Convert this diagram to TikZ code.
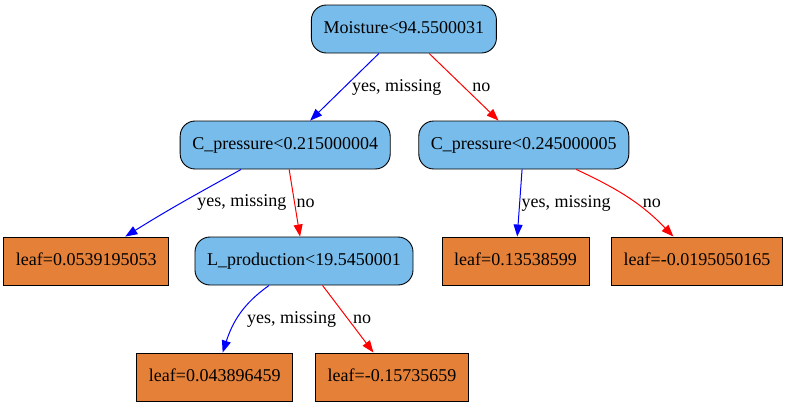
\documentclass[tikz,border=0pt]{standalone}
\usepackage{fontspec}
\setmainfont{Liberation Serif}
\usetikzlibrary{positioning,arrows.meta}
\definecolor{splitblue}{HTML}{78BCEB}
\definecolor{leaforange}{HTML}{E48038}
\begin{document}
\begin{tikzpicture}[node distance=116pt,
    every node/.style={font=\fontsize{18}{22}\selectfont, text height=13pt, text depth=4pt},
    split/.style={draw, line width=0.9pt, fill=splitblue, rounded corners=15pt, minimum height=48pt, inner xsep=12.2pt, inner ysep=0pt},
    leaf/.style={draw, line width=0.9pt, fill=leaforange, minimum height=48pt, inner xsep=12.2pt, inner ysep=0pt},
    yesedge/.style={draw=blue, line width=1pt, -{Triangle[length=12pt,width=9pt]}},
    noedge/.style={draw=red, line width=1pt, -{Triangle[length=12pt,width=9pt]}},
    lbl/.style={anchor=west, inner sep=0pt}]
                \useasboundingbox (0,0) rectangle (787pt,-407pt);
                \node[split] (m) at (403.9pt,-29pt) {Moisture<94.5500031};
                \node[split] (cp1) [below of=m, xshift=-118.7pt] {C\_pressure<0.215000004};
                \node[split] (cp2) [below of=m, xshift=119.9pt] {C\_pressure<0.245000005};
                \node[leaf] (lf1) [below of=cp1, xshift=-199pt] {leaf=0.0539195053};
                \node[split] (lp) [below of=cp1, xshift=18.8pt] {L\_production<19.5450001};
                \node[leaf] (lf3) [below of=cp2, xshift=-8.3pt] {leaf=0.13538599};
                \node[leaf] (lf4) [below of=cp2, xshift=173.2pt] {leaf=-0.0195050165};
                \node[leaf] (lf5) [below of=lp, xshift=-89.3pt] {leaf=0.043896459};
                \node[leaf] (lf6) [below of=lp, xshift=88pt] {leaf=-0.15735659};
                \draw[yesedge] (m) -- node[lbl, xshift=7.2pt] {yes, missing} (cp1);
                \draw[noedge] (m) -- node[lbl, xshift=7.9pt] {no} (cp2);
                \draw[yesedge] (cp1) to[out=209, in=32] node[lbl, xshift=14.2pt] {yes, missing} (lf1);
                \draw[noedge] (cp1) -- node[lbl, xshift=1.5pt] {no} (lp);
                \draw[yesedge] (cp2) -- node[lbl, xshift=1.5pt] {yes, missing} (lf3);
                \draw[noedge] (cp2) to[out=-25, in=134] node[lbl, xshift=14pt, yshift=-4.7pt] {no} (lf4);
                \draw[yesedge] (lp) to[out=215, in=72] node[lbl, xshift=6.8pt, yshift=-4.6pt] {yes, missing} (lf5);
                \draw[noedge] (lp) -- node[lbl, xshift=4.7pt] {no} (lf6);
            \end{tikzpicture}
\end{document}
